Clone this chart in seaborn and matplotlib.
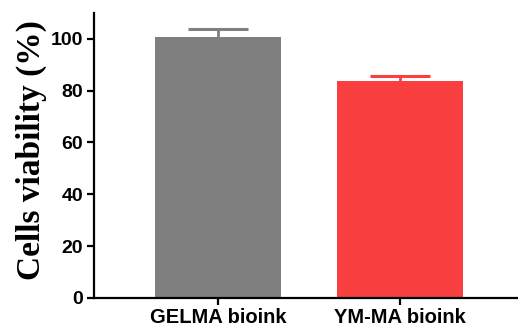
import matplotlib
matplotlib.use('agg')
import matplotlib.pyplot as plt
import pandas as pd
import seaborn as sns

groups = ['GELMA bioink', 'YM-MA bioink']
viability = [100.5, 83.9]
viability_sd = [3.1, 1.9]
bar_colors = ['#7f7f7f', '#f93f3f']

df = pd.DataFrame({'group': groups, 'viability': viability})

sns.set_style('ticks')
fig = plt.figure(figsize=(5.18, 3.30), dpi=100)
ax = fig.add_axes([0.181, 0.097, 0.817, 0.864])

sns.barplot(data=df, x='group', y='viability', hue='group', palette=bar_colors,
            legend=False, width=0.69, saturation=1, linewidth=0, ax=ax)

# upper error bars only, prism style
cap = 0.165
for i, (m, s) in enumerate(zip(viability, viability_sd)):
    ax.vlines(i, m, m + s, color=bar_colors[i], linewidth=2, zorder=1)
    ax.hlines(m + s, i - cap, i + cap, color=bar_colors[i], linewidth=2.2, zorder=1)

ax.set_xlim(-0.68, 1.64)
ax.set_ylim(0, 110)
ax.set_yticks([0, 20, 40, 60, 80, 100])
ax.set_xlabel('')
ax.set_ylabel('Cells viability (%)', family='Liberation Serif', fontweight='bold',
              fontsize=24, color='black')
ax.yaxis.set_label_coords(-0.111, 0.52)

for sp in ['top', 'right']:
    ax.spines[sp].set_visible(False)
for sp in ['left', 'bottom']:
    ax.spines[sp].set_linewidth(1.6)
    ax.spines[sp].set_color('black')

ax.tick_params(axis='both', direction='out', length=5, width=1.6, colors='black', pad=2.5)
for lab in ax.get_yticklabels():
    lab.set_family('Liberation Sans')
    lab.set_fontweight('bold')
    lab.set_fontsize(14)
for lab in ax.get_xticklabels():
    lab.set_family('Liberation Sans')
    lab.set_fontweight('bold')
    lab.set_fontsize(14.5)

fig.savefig('out.png', dpi=100)
